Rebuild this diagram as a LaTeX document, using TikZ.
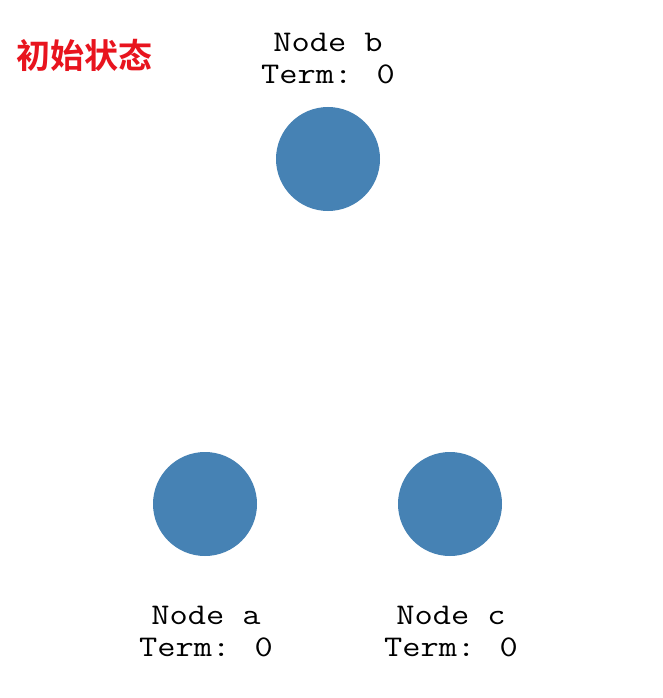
\documentclass[tikz,border=0pt]{standalone}
\usepackage{fontspec}
\newfontfamily\cjkbold{Noto Sans CJK SC Bold}
\definecolor{steel}{HTML}{4682B4}
\definecolor{titlered}{HTML}{E8141E}
\tikzset{
  peer/.style={circle, fill=steel, minimum size=104pt, inner sep=0pt},
  lbl/.style={font=\ttfamily\fontsize{30}{32}\selectfont, inner sep=0pt, text=black, anchor=base, xscale=1.18, transform shape},
  ttl/.style={font=\cjkbold\fontsize{34}{36}\selectfont, inner sep=0pt, anchor=west}
}
\begin{document}
\begin{tikzpicture}[x=1pt,y=-1pt]
\useasboundingbox (0,0) rectangle (662,698);
\fill[white] (0,0) rectangle (662,698);
\node[ttl, text=titlered] (title) at (16,55) {初始状态};
% nodes
\node[peer] (b) at (328,159) {};
\node[peer] (a) at (205,504) {};
\node[peer] (c) at (450,504) {};
\node[lbl] (lb1) at (328,52) {Node b};
\node[lbl] (lb2) at (328,84) {Term: 0};
\node[lbl] (la1) at (206,624) {Node a};
\node[lbl] (la2) at (206,656) {Term: 0};
\node[lbl] (lc1) at (451,624) {Node c};
\node[lbl] (lc2) at (451,656) {Term: 0};
\end{tikzpicture}
\end{document}
